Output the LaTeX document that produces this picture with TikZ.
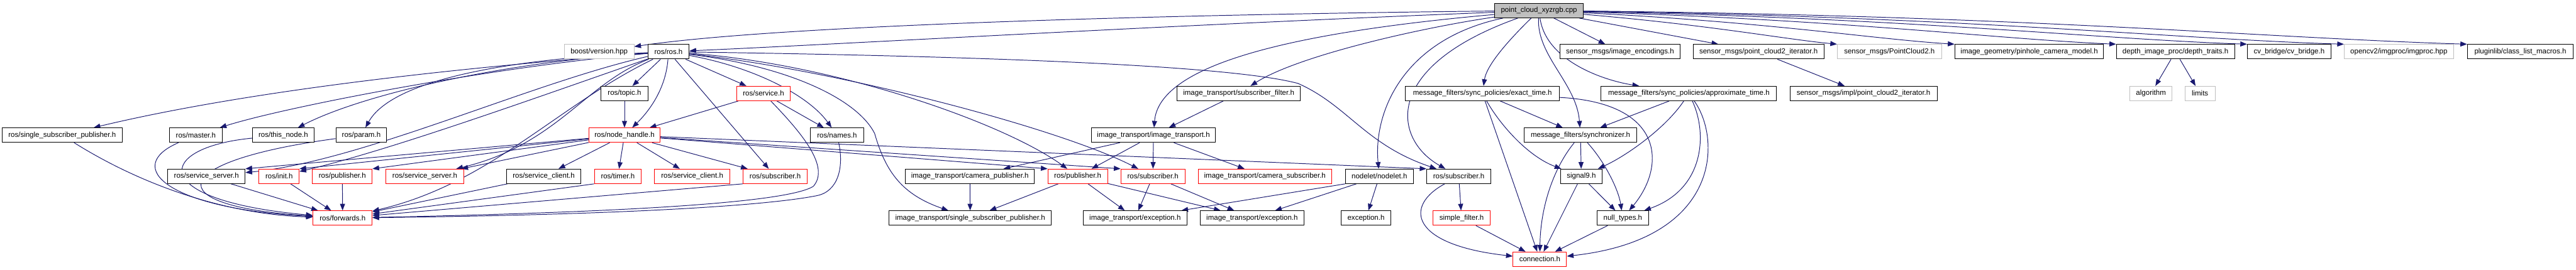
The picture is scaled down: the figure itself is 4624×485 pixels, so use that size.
\documentclass[tikz,border=0pt]{standalone}
\usepackage{fontspec}
\setmainfont{Liberation Sans}
\usetikzlibrary{arrows.meta,backgrounds}
\definecolor{midnight}{HTML}{191970}
\definecolor{grayseventyfive}{HTML}{BFBFBF}
\newcommand\nodefont{\fontsize{13}{15}\selectfont}
\tikzset{
  dbox/.style={draw=black, line width=1.1pt, fill=white, minimum height=26pt, inner sep=0pt, font=\nodefont, text=black},
  rbox/.style={dbox, draw=red},
  gbox/.style={dbox, draw=grayseventyfive},
  rtbox/.style={dbox, fill=grayseventyfive},
  ed/.style={draw=midnight, line width=1.1pt, -{Triangle[length=12pt,width=9pt]}},
}
\begin{document}
\begin{tikzpicture}[x=1pt,y=-1pt]
\useasboundingbox (0,0) rectangle (4624,485);
% row 0
\node[rtbox, minimum width=159pt] (root) at (2762.5,19) {point\_cloud\_xyzrgb.cpp};
% row 1
\node[gbox, minimum width=125pt] (boostv) at (1075.5,93) {boost/version.hpp};
\node[dbox, minimum width=74pt] (rosh) at (1200,93) {ros/ros.h};
\node[dbox, minimum width=216pt] (imgenc) at (2908,93) {sensor\_msgs/image\_encodings.h};
\node[dbox, minimum width=235pt] (pc2it) at (3156.5,93) {sensor\_msgs/point\_cloud2\_iterator.h};
\node[gbox, minimum width=187pt] (pc2) at (3391.5,93) {sensor\_msgs/PointCloud2.h};
\node[dbox, minimum width=267pt] (pinhole) at (3642.5,93) {image\_geometry/pinhole\_camera\_model.h};
\node[dbox, minimum width=212pt] (depth) at (3905,93) {depth\_image\_proc/depth\_traits.h};
\node[dbox, minimum width=150pt] (cvb) at (4109,93) {cv\_bridge/cv\_bridge.h};
\node[gbox, minimum width=196pt] (opencv) at (4306,93) {opencv2/imgproc/imgproc.hpp};
\node[dbox, minimum width=190pt] (plugin) at (4524,93) {pluginlib/class\_list\_macros.h};
% row 2
\node[dbox, minimum width=84pt] (topic) at (1121,168) {ros/topic.h};
\node[rbox, minimum width=97pt] (service) at (1370.5,168) {ros/service.h};
\node[dbox, minimum width=221pt] (subfilt) at (2223.5,168) {image\_transport/subscriber\_filter.h};
\node[dbox, minimum width=276pt] (exact) at (2661,168) {message\_filters/sync\_policies/exact\_time.h};
\node[dbox, minimum width=315pt] (approx) at (3031.5,168) {message\_filters/sync\_policies/approximate\_time.h};
\node[dbox, minimum width=264pt] (pc2impl) at (3345,168) {sensor\_msgs/impl/point\_cloud2\_iterator.h};
\node[gbox, minimum width=76pt] (algo) at (3861,168) {algorithm};
\node[gbox, minimum width=54pt] (limits) at (3949,168) {limits};
% row 3
\node[dbox, minimum width=215pt] (ssp) at (111.5,243) {ros/single\_subscriber\_publisher.h};
\node[dbox, minimum width=95pt] (master) at (351.5,243) {ros/master.h};
\node[dbox, minimum width=111pt] (thisnode) at (508.5,243) {ros/this\_node.h};
\node[dbox, minimum width=91pt] (param) at (648.5,243) {ros/param.h};
\node[rbox, minimum width=128pt] (nh) at (1121,243) {ros/node\_handle.h};
\node[dbox, minimum width=95pt] (names) at (1502.5,243) {ros/names.h};
\node[dbox, minimum width=223pt] (it) at (2070.5,243) {image\_transport/image\_transport.h};
\node[dbox, minimum width=202pt] (sync) at (2837,243) {message\_filters/synchronizer.h};
% row 4
\node[dbox, minimum width=139pt] (ssrv1) at (370.5,317) {ros/service\_server.h};
\node[rbox, minimum width=72pt] (init) at (501,317) {ros/init.h};
\node[rbox, minimum width=107pt] (pub1) at (614.5,317) {ros/publisher.h};
\node[rbox, minimum width=141pt] (ssrv2) at (762.5,317) {ros/service\_server.h};
\node[dbox, minimum width=134pt] (scli1) at (976,317) {ros/service\_client.h};
\node[rbox, minimum width=84pt] (timer) at (1109,317) {ros/timer.h};
\node[rbox, minimum width=135pt] (scli2) at (1242.5,317) {ros/service\_client.h};
\node[rbox, minimum width=115pt] (sub1) at (1391.5,317) {ros/subscriber.h};
\node[dbox, minimum width=232pt] (campub) at (1741,317) {image\_transport/camera\_publisher.h};
\node[rbox, minimum width=107pt] (pub2) at (1934.5,317) {ros/publisher.h};
\node[rbox, minimum width=115pt] (sub2) at (2069.5,317) {ros/subscriber.h};
\node[rbox, minimum width=239pt] (camsub) at (2270.5,317) {image\_transport/camera\_subscriber.h};
\node[dbox, minimum width=122pt] (nodelet) at (2476,317) {nodelet/nodelet.h};
\node[dbox, minimum width=115pt] (sub3) at (2618.5,317) {ros/subscriber.h};
\node[dbox, minimum width=75pt] (sig9) at (2838.5,317) {signal9.h};
% row 5
\node[rbox, minimum width=106pt] (fwd) at (615,392) {ros/forwards.h};
\node[dbox, minimum width=291pt] (itssp) at (1741.5,392) {image\_transport/single\_subscriber\_publisher.h};
\node[dbox, minimum width=187pt] (exc1) at (2037.5,392) {image\_transport/exception.h};
\node[dbox, minimum width=187pt] (exc2) at (2247.5,392) {image\_transport/exception.h};
\node[dbox, minimum width=90pt] (exc3) at (2452,392) {exception.h};
\node[rbox, minimum width=103pt] (sfilt) at (2623.5,392) {simple\_filter.h};
\node[dbox, minimum width=92pt] (nullt) at (2913,392) {null\_types.h};
% row 6
\node[rbox, minimum width=96pt] (conn) at (2764,466) {connection.h};

\begin{pgfonlayer}{background}
\fill[white] (0,0) rectangle (4624,485);
% root edges
\draw[ed] (root) .. controls (2100,26) and (1400,45) .. (boostv);
\draw[ed] (root) .. controls (2100,45) and (1500,80) .. (rosh);
\draw[ed] (root) .. controls (2300,60) and (2080,120) .. (it);
\draw[ed] (root) .. controls (2550,50) and (2330,100) .. (subfilt);
\draw[ed] (root) .. controls (2520,70) and (2465,200) .. (nodelet);
\draw[ed] (root) .. controls (2480,120) and (2500,250) .. (sub3);
\draw[ed] (root) .. controls (2700,80) and (2668,120) .. (exact);
\draw[ed] (root) .. controls (2758,100) and (2830,150) .. (sync);
\draw[ed] (root) -- (imgenc);
\draw[ed] (root) .. controls (2775,110) and (2880,145) .. (approx);
\draw[ed] (root) -- (pc2it);
\draw[ed] (root) .. controls (3070,45) and (3200,70) .. (pc2.north west);
\draw[ed] (root) .. controls (3180,40) and (3360,70) .. (pinhole.north west);
\draw[ed] (root) .. controls (3320,36) and (3580,70) .. (depth.north west);
\draw[ed] (root) .. controls (3440,33) and (3760,70) .. (cvb.north west);
\draw[ed] (root) .. controls (3530,30) and (3900,70) .. (opencv.north west);
\draw[ed] (root) .. controls (3640,28) and (4060,68) .. (plugin.north west);
% ros.h edges
\draw[ed] (rosh) .. controls (950,112) and (500,150) .. (ssp);
\draw[ed] (rosh) .. controls (900,118) and (520,190) .. (master);
\draw[ed] (rosh) .. controls (900,112) and (650,170) .. (thisnode);
\draw[ed] (rosh) .. controls (880,108) and (700,150) .. (param);
\draw[ed] (rosh) -- (topic);
\draw[ed] (rosh) .. controls (1195,160) and (1165,200) .. (nh);
\draw[ed] (rosh) -- (service);
\draw[ed] (rosh) .. controls (1350,120) and (1450,170) .. (names);
\draw[ed] (rosh) -- (sub1);
\draw[ed] (rosh) .. controls (950,150) and (650,290) .. (ssrv1);
\draw[ed] (rosh) .. controls (1050,150) and (1000,260) .. (ssrv2);
\draw[ed] (rosh) .. controls (1000,190) and (880,330) .. (fwd);
\draw[ed] (rosh) .. controls (950,180) and (700,270) .. (init);
\draw[ed] (rosh) .. controls (1500,115) and (1800,220) .. (pub2);
\draw[ed] (rosh) .. controls (1500,125) and (1900,230) .. (sub2);
\draw[ed] (rosh) .. controls (1700,100) and (2200,115) .. (2330,150) .. controls (2420,190) and (2450,260) .. (sub3);
\draw[ed] (rosh) .. controls (1420,120) and (1540,180) .. (1570,240) .. controls (1590,310) and (1620,350) .. (itssp);
% node_handle edges
\draw[ed] (nh) -- (ssrv1.north east);
\draw[ed] (nh) -- (init.north east);
\draw[ed] (nh) -- (pub1.north east);
\draw[ed] (nh) -- (ssrv2);
\draw[ed] (nh) -- (scli1);
\draw[ed] (nh) -- (timer);
\draw[ed] (nh) -- (scli2);
\draw[ed] (nh) -- (sub1);
\draw[ed] (nh) -- (pub2.north west);
\draw[ed] (nh) -- (sub2.north west);
\draw[ed] (nh) -- (sub3.north west);
% service, topic, names
\draw[ed] (topic) -- (nh);
\draw[ed] (service) -- (nh);
\draw[ed] (service) -- (names);
\draw[ed] (service) .. controls (1440,240) and (1490,300) .. (1460,335) .. controls (1420,360) and (1200,380) .. (fwd);
\draw[ed] (names) .. controls (1515,300) and (1505,345) .. (1465,352) .. controls (1400,365) and (1200,385) .. (fwd);
% into forwards
\draw[ed] (ssp) .. controls (250,330) and (400,385) .. (fwd);
\draw[ed] (master) .. controls (220,300) and (300,375) .. (fwd);
\draw[ed] (thisnode) .. controls (280,265) and (260,360) .. (fwd);
\draw[ed] (param) .. controls (300,290) and (280,370) .. (fwd);
\draw[ed] (ssrv1) -- (fwd);
\draw[ed] (init) -- (fwd);
\draw[ed] (pub1) -- (fwd);
\draw[ed] (scli1) -- (fwd);
\draw[ed] (timer.south west) -- (fwd);
\draw[ed] (sub1.south west) -- (fwd);
% image_transport
\draw[ed] (subfilt) -- (it);
\draw[ed] (it) -- (campub);
\draw[ed] (it) -- (pub2);
\draw[ed] (it) -- (sub2);
\draw[ed] (it) -- (camsub);
\draw[ed] (campub) -- (itssp);
\draw[ed] (pub2) -- (itssp);
\draw[ed] (pub2) -- (exc1);
\draw[ed] (pub2) -- (exc2);
\draw[ed] (sub2) -- (exc1);
\draw[ed] (sub2) -- (exc2);
\draw[ed] (nodelet.south west) -- (exc1);
\draw[ed] (nodelet) -- (exc2);
\draw[ed] (nodelet) -- (exc3);
\draw[ed] (sub3) -- (sfilt);
\draw[ed] (sub3) .. controls (2520,370) and (2530,440) .. (conn);
\draw[ed] (sfilt) -- (conn);
% message_filters
\draw[ed] (exact) -- (sync);
\draw[ed] (exact) .. controls (2690,220) and (2740,280) .. (sig9);
\draw[ed] (exact) -- (conn);
\draw[ed] (exact) .. controls (2990,185) and (2990,300) .. (nullt);
\draw[ed] (approx) -- (sync);
\draw[ed] (approx) .. controls (2990,230) and (2920,280) .. (sig9);
\draw[ed] (approx) .. controls (3065,240) and (3060,340) .. (nullt);
\draw[ed] (approx) .. controls (3090,250) and (3090,430) .. (conn);
\draw[ed] (sync) -- (sig9);
\draw[ed] (sync) .. controls (2880,290) and (2905,340) .. (nullt);
\draw[ed] (sync) .. controls (2790,300) and (2765,370) .. (conn);
\draw[ed] (sig9) -- (nullt);
\draw[ed] (sig9) -- (conn);
\draw[ed] (nullt) -- (conn);
% others
\draw[ed] (pc2it) -- (pc2impl);
\draw[ed] (depth) -- (algo);
\draw[ed] (depth) -- (limits);
\end{pgfonlayer}
\end{tikzpicture}
\end{document}
